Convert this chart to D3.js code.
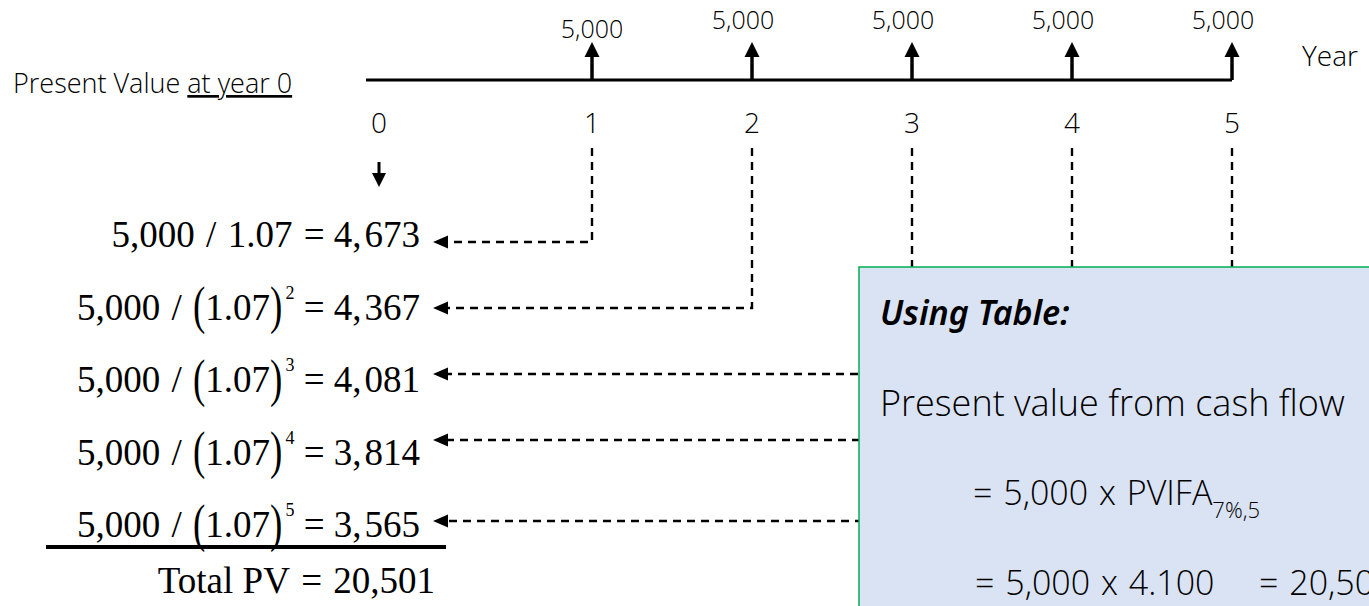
<!DOCTYPE html>
<html>
<head>
<meta charset="utf-8">
<script src="https://cdn.jsdelivr.net/npm/d3@7"></script>
<style>
  body { margin: 0; background: #fff; }
  text { white-space: pre; }
  .sans { font-family: "Open Sans", "Noto Sans", sans-serif; font-weight: 300; fill: #000; }
  .head { font-family: "Noto Sans", "Open Sans", sans-serif; fill: #000; }
  .serif { font-family: "Liberation Serif", "Times New Roman", serif; fill: #000; }
</style>
</head>
<body>
<svg id="chart"></svg>
<script>
// cash flow timeline
const years = [0, 1, 2, 3, 4, 5];
const cashYears = [1, 2, 3, 4, 5];
const cashFlows = [5000, 5000, 5000, 5000, 5000];
const rateLabel = "1.07";
const pvValues = [4673, 4367, 4081, 3814, 3565];
const totalPV = 20501;
const pvifaSub = "7%,5";
const pvifaValue = "4.100";

// init setting
const W = 1369, H = 606;
const svg = d3.select("#chart").attr("width", W).attr("height", H);
const fmt = d3.format(",");

const lineY = 80, lineX0 = 366;
const x = d3.scaleLinear().domain([1, 5]).range([592, 1232]);
const xYear = d => d === 0 ? lineX0 + 13 : x(d);
const rowBase = d3.scaleLinear().domain([1, 5]).range([247, 537]);
// arrows sit a bit above each row; last row is pushed down by the total line
const rowArrow = d3.scaleLinear().domain([1, 4]).range([242, 440]);
const arrowY = n => n === 5 ? rowBase(5) - 16 : rowArrow(n);
const eqRight = 420, tipX = 433;

// title on the left
const left = svg.append("text").attr("class", "sans")
    .attr("x", 13).attr("y", 93).attr("font-size", 27);
left.append("tspan").text("Present Value ");
left.append("tspan").attr("text-decoration", "underline").text("at year 0");

// timeline
svg.append("line")
    .attr("x1", lineX0).attr("x2", x(5))
    .attr("y1", lineY).attr("y2", lineY)
    .attr("stroke", "#000").attr("stroke-width", 3);

svg.append("text").attr("class", "sans")
    .attr("x", 1302).attr("y", 66)
    .attr("font-size", 28).attr("font-weight", 400)
    .text("Year");

// year labels
svg.selectAll(".year")
    .data(years)
    .enter().append("text")
    .attr("class", "sans year")
    .attr("x", d => xYear(d))
    .attr("y", 133)
    .attr("text-anchor", "middle")
    .attr("font-size", 28)
    .text(d => d);

// cash flow arrows (up)
const flows = cashYears.map((yr, i) => ({ yr, v: cashFlows[i] }));
svg.selectAll(".shaft")
    .data(flows)
    .enter().append("line")
    .attr("x1", d => x(d.yr)).attr("x2", d => x(d.yr))
    .attr("y1", lineY).attr("y2", 55)
    .attr("stroke", "#000").attr("stroke-width", 3.5);
svg.selectAll(".uphead")
    .data(flows)
    .enter().append("path")
    .attr("d", d => `M${x(d.yr)},42 l-7.5,15 l15,0 z`)
    .attr("fill", "#000");
svg.selectAll(".cf")
    .data(flows)
    .enter().append("text")
    .attr("class", "sans")
    .attr("x", d => x(d.yr) + (d.yr === 1 ? 0 : -9))
    .attr("y", d => d.yr === 1 ? 38 : 29)
    .attr("text-anchor", "middle")
    .attr("font-size", 25)
    .text(d => fmt(d.v));

// down arrow at year 0
svg.append("line")
    .attr("x1", xYear(0)).attr("x2", xYear(0))
    .attr("y1", 162).attr("y2", 175)
    .attr("stroke", "#000").attr("stroke-width", 3);
svg.append("path")
    .attr("d", `M${xYear(0)},187 l-7,-14 l14,0 z`)
    .attr("fill", "#000");

// dashed connectors: year -> row
svg.selectAll(".conn")
    .data(cashYears)
    .enter().append("path")
    .attr("d", d => `M${x(d)},148 V${arrowY(d)} H${tipX + 13}`)
    .attr("fill", "none")
    .attr("stroke", "#000")
    .attr("stroke-width", 2.4)
    .attr("stroke-dasharray", "8,6");
svg.selectAll(".lefthead")
    .data(cashYears)
    .enter().append("path")
    .attr("d", d => `M${tipX},${arrowY(d)} l15,-6.5 l0,13 z`)
    .attr("fill", "#000");

// equations
function piece(g, cx, txt, opt = {}) {
    const t = g.append("text").attr("class", "serif")
        .attr("font-size", opt.size || 37)
        .attr("x", 0).attr("y", opt.dy || 0)
        .text(txt);
    if (opt.stretch) {
        t.attr("transform", `translate(${cx},-9) scale(1,${opt.stretch}) translate(0,9)`);
    } else {
        t.attr("transform", `translate(${cx},0)`);
    }
    return cx + t.node().getComputedTextLength() + (opt.gap || 0);
}

pvValues.forEach((v, i) => {
    const n = i + 1;
    const g = svg.append("g");
    let cx = 0;
    cx = piece(g, cx, fmt(cashFlows[i]), { gap: 2 });
    cx = piece(g, cx, " / ", { gap: 2 });
    if (n === 1) {
        cx = piece(g, cx, rateLabel, { gap: 2 });
    } else {
        cx = piece(g, cx, "(", { stretch: 1.43 });
        cx = piece(g, cx, rateLabel);
        cx = piece(g, cx, ")", { stretch: 1.43, gap: 3 });
        cx = piece(g, cx, n, { size: 18, dy: -21 });
    }
    cx = piece(g, cx, " = ");
    const s = fmt(v).split(",");
    cx = piece(g, cx, s[0] + ",", { gap: 3 });
    cx = piece(g, cx, s[1]);
    g.attr("transform", `translate(${eqRight - cx},${rowBase(n)})`);
});

// underline and total
svg.append("line")
    .attr("x1", 46).attr("x2", 446)
    .attr("y1", 547).attr("y2", 547)
    .attr("stroke", "#000").attr("stroke-width", 4);
const tg = svg.append("g");
let tx = 0;
tx = piece(tg, tx, "Total PV", { gap: 2 });
tx = piece(tg, tx, " = ", { gap: 2 });
tx = piece(tg, tx, fmt(totalPV));
tg.attr("transform", `translate(${435 - tx},593)`);

// table box
svg.append("rect")
    .attr("x", 859).attr("y", 267)
    .attr("width", W - 859 + 10).attr("height", H - 267 + 10)
    .attr("fill", "#dae3f3")
    .attr("stroke", "#00b050").attr("stroke-width", 1.5);

svg.append("text").attr("class", "head")
    .attr("x", 880).attr("y", 325)
    .attr("font-size", 34).attr("font-style", "italic").attr("font-weight", 600)
    .text("Using Table:");
svg.append("text").attr("class", "sans")
    .attr("x", 880).attr("y", 416)
    .attr("font-size", 36)
    .text("Present value from cash flow");
const l3 = svg.append("text").attr("class", "sans")
    .attr("x", 973).attr("y", 505)
    .attr("font-size", 34).attr("word-spacing", 2);
l3.append("tspan").text(`= ${fmt(cashFlows[0])} x PVIFA`);
l3.append("tspan").attr("font-size", 22).attr("dy", 13).text(pvifaSub);
svg.append("text").attr("class", "sans")
    .attr("x", 975).attr("y", 595)
    .attr("font-size", 34).attr("word-spacing", 2)
    .text(`= ${fmt(cashFlows[0])} x ${pvifaValue}`);
svg.append("text").attr("class", "sans")
    .attr("x", 1259).attr("y", 595)
    .attr("font-size", 34).attr("word-spacing", 2)
    .text(`= ${fmt(totalPV)}`);
</script>
</body>
</html>
